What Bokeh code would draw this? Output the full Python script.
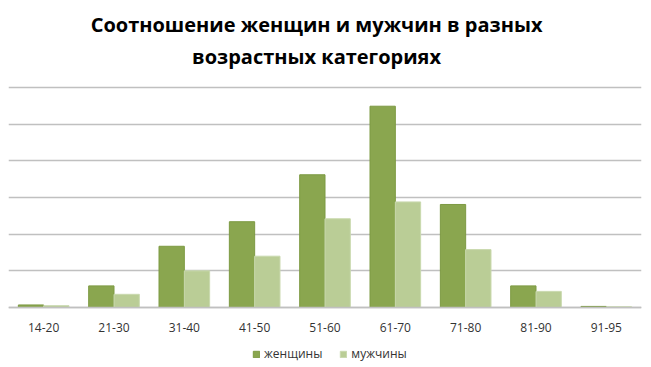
from bokeh.plotting import figure
from bokeh.models import FactorRange, ColumnDataSource, Legend, LegendItem, Range1d, Label, FixedTicker
from bokeh.transform import dodge
from bokeh.embed import file_html
from bokeh.resources import INLINE

categories = ["14-20", "21-30", "31-40", "41-50", "51-60", "61-70", "71-80", "81-90", "91-95"]
women = [0.7, 5.9, 16.7, 23.4, 36.2, 54.9, 28.1, 5.9, 0.3]
men = [0.5, 3.6, 10.0, 14.0, 24.2, 28.8, 15.8, 4.4, 0.2]
series_names = ["женщины", "мужчины"]
title_lines = ["Соотношение женщин и мужчин в разных", "возрастных категориях"]
grid_values = [0, 10, 20, 30, 40, 50, 60]
women_fill, women_line = "#8aa64f", "#7d9a43"
men_fill, men_line = "#bacd96", "#c9d9ae"

src = ColumnDataSource(dict(cat=categories, women=women, men=men))

W, H = 651, 367
p = figure(width=W, height=H, title=None, x_range=FactorRange(*categories, range_padding=0),
           y_range=Range1d(-16.36, 83.73), output_backend="svg", toolbar_location=None,
           min_border_left=8, min_border_right=10, min_border_top=0, min_border_bottom=0)

r1 = p.vbar(x=dodge("cat", -0.18, range=p.x_range), top="women", width=0.36, source=src,
            fill_color=women_fill, line_color=women_line, line_width=1)
r2 = p.vbar(x=dodge("cat", 0.18, range=p.x_range), top="men", width=0.36, source=src,
            fill_color=men_fill, line_color=men_line, line_width=1)

p.yaxis.visible = False
p.yaxis.ticker = FixedTicker(ticks=grid_values)
p.xgrid.grid_line_color = None
p.ygrid.grid_line_color = "#c0c0c0"
p.ygrid.grid_line_width = 1.3
p.outline_line_color = None

xa = p.xaxis[0]
xa.fixed_location = 0
xa.major_tick_line_color = None
xa.minor_tick_line_color = None
xa.major_tick_out = 0
xa.major_tick_in = 0
xa.axis_line_color = "#c0c0c0"
xa.axis_line_width = 1.3
xa.major_label_text_font = "Open Sans"
xa.major_label_text_font_size = "12px"
xa.major_label_text_color = "#333333"
xa.major_label_standoff = 15

# title lines (inside the canvas, above the plotting area)
for txt, y in [(title_lines[0], 77.18), (title_lines[1], 68.46)]:
    p.add_layout(Label(x=4.38, y=y, text=txt, text_align="center", text_baseline="middle",
                       text_font="Open Sans", text_font_size="20px", text_font_style="bold",
                       text_color="#000000"))

legend = Legend(items=[LegendItem(label=series_names[0], renderers=[r1]),
                       LegendItem(label=series_names[1], renderers=[r2])],
                orientation="horizontal", location=(244, 5),
                label_text_font="Open Sans", label_text_font_size="12px",
                label_text_color="#333333", glyph_width=8, glyph_height=8,
                border_line_color=None, background_fill_alpha=0,
                spacing=17, padding=0, margin=0, label_standoff=4,
                label_height=14)
p.add_layout(legend, "center")

open("out.html", "w").write(file_html(p, INLINE))
